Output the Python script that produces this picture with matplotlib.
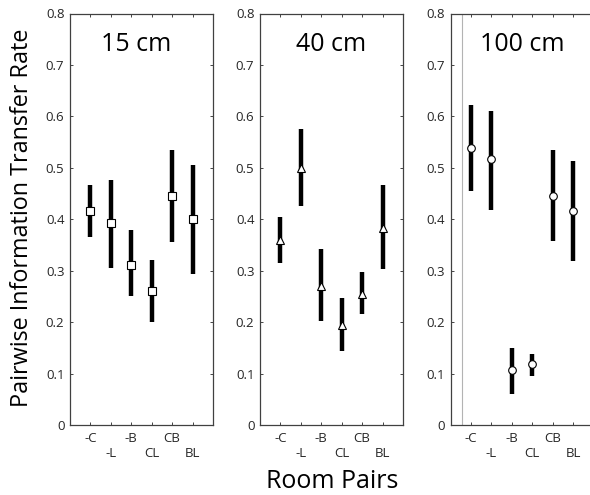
import numpy as np
import matplotlib
matplotlib.use("Agg")
import matplotlib.pyplot as plt

plt.rcParams['font.family'] = ['Open Sans', 'DejaVu Sans']

# room pairs and per-distance results (mean, lower end, upper end of bar)
pairs = ["-C", "-L", "-B", "CL", "CB", "BL"]
distances = ["15 cm", "40 cm", "100 cm"]
markers = ["s", "^", "o"]

mean_15 = [0.417, 0.393, 0.312, 0.260, 0.445, 0.401]
low_15 = [0.366, 0.306, 0.250, 0.200, 0.356, 0.294]
high_15 = [0.467, 0.476, 0.379, 0.320, 0.535, 0.506]

mean_40 = [0.359, 0.499, 0.271, 0.194, 0.255, 0.383]
low_40 = [0.314, 0.426, 0.203, 0.144, 0.215, 0.303]
high_40 = [0.404, 0.575, 0.343, 0.246, 0.298, 0.467]

mean_100 = [0.539, 0.517, 0.106, 0.118, 0.445, 0.417]
low_100 = [0.455, 0.418, 0.061, 0.095, 0.357, 0.318]
high_100 = [0.622, 0.611, 0.150, 0.139, 0.534, 0.513]

means = [mean_15, mean_40, mean_100]
lows = [low_15, low_40, low_100]
highs = [high_15, high_40, high_100]

fig = plt.figure(figsize=(5.9, 4.95), dpi=100)
W, H = 590.0, 495.0
lefts = [70, 260, 450.6]
x = np.arange(1, 7)

for i in range(3):
    ax = fig.add_axes([lefts[i] / W, 70 / H, 143 / W, 411.5 / H])
    m = np.array(means[i])
    lo = m - np.array(lows[i])
    hi = np.array(highs[i]) - m
    ax.errorbar(x, m, yerr=[lo, hi], fmt='none', ecolor='black',
                elinewidth=3.2, capsize=0, zorder=2)
    ax.plot(x, m, linestyle='none', marker=markers[i], markersize=5.5,
            markerfacecolor='white', markeredgecolor='black',
            markeredgewidth=0.8, zorder=3)
    if i == 2:
        ax.axvline(0.55, color='0.7', lw=0.8, zorder=1)

    ax.set_xlim(0, 7)
    ax.set_ylim(0, 0.8)
    ax.set_yticks(np.arange(0, 0.81, 0.1))
    ax.set_yticklabels(["0"] + ["%.1f" % v for v in np.arange(0.1, 0.81, 0.1)])
    ax.set_xticks(x)
    ax.set_xticklabels(pairs)
    ax.tick_params(direction='in', length=2.5, width=0.6, top=True,
                   right=True, labelsize=9.5, colors='0.15', pad=4)
    for j, t in enumerate(ax.xaxis.get_major_ticks()):
        t.set_pad(16 if j % 2 == 1 else 5)
    for s in ax.spines.values():
        s.set_color('0.25')
        s.set_linewidth(0.9)

    tx = 0.46 if i == 0 else 0.5
    ax.text(tx, 0.925, distances[i], transform=ax.transAxes, ha='center',
            va='center', fontsize=18)

fig.text(22 / W, 1 - 218 / H, "Pairwise Information Transfer Rate",
         rotation=90, ha='center', va='center', fontsize=16.8)
fig.text(332 / W, 1 - 488 / H, "Room Pairs", ha='center', va='baseline',
         fontsize=18)

fig.savefig("out.png", dpi=100)
